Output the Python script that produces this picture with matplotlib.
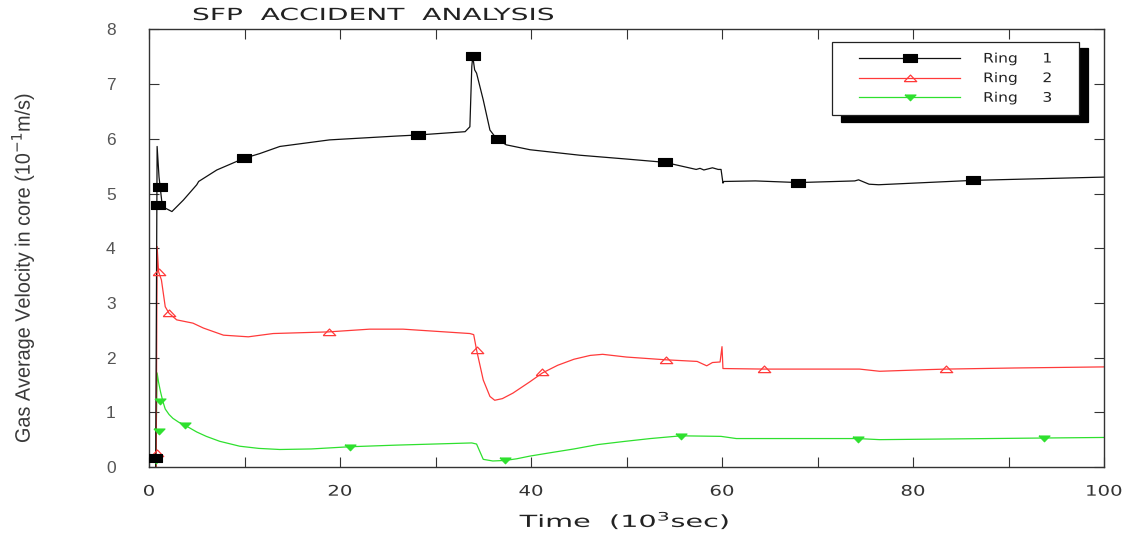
import numpy as np
import matplotlib
matplotlib.use("Agg")
import matplotlib.pyplot as plt
from matplotlib.lines import Line2D
from matplotlib.legend_handler import HandlerLine2D
from matplotlib.patheffects import AbstractPathEffect
from matplotlib.transforms import Affine2D
from matplotlib import font_manager

# ---- data (time in 10^3 s, velocity in 10^-1 m/s) ----
ring1_t = [0.7, 0.85, 1.05, 1.4, 2.4, 3.6, 5.0, 5.2, 7.1, 9.9, 11.6, 13.7, 18.9, 25.9, 28.2,
           33.1, 33.6, 33.8, 33.9, 34.1, 34.3, 35.0, 35.7, 36.4, 37.4, 39.9, 45.1, 50.0, 54.0,
           57.3, 57.7, 58.1, 59.0, 59.6, 59.9, 60.1, 60.2, 63.5, 68.0, 73.9, 74.3, 75.4, 76.4,
           86.3, 100.0]
ring1_v = [0.0, 5.86, 5.3, 4.76, 4.67, 4.88, 5.16, 5.22, 5.43, 5.64, 5.73, 5.86, 5.98, 6.05, 6.07,
           6.13, 6.22, 7.32, 7.51, 7.26, 7.20, 6.71, 6.16, 6.00, 5.89, 5.80, 5.70, 5.63, 5.57,
           5.44, 5.46, 5.43, 5.47, 5.44, 5.44, 5.19, 5.22, 5.23, 5.20, 5.23, 5.25, 5.17, 5.16,
           5.24, 5.30]
ring1_mark_t = [0.65, 0.95, 1.2, 9.9, 28.2, 33.9, 36.5, 54.0, 68.0, 86.3]
ring1_mark_v = [0.16, 4.79, 5.12, 5.64, 6.07, 7.51, 6.00, 5.57, 5.20, 5.24]

ring2_t = [0.75, 0.85, 1.0, 1.3, 1.7, 2.1, 2.9, 4.6, 5.7, 7.8, 10.4, 13.0, 18.8, 23.1, 26.6,
           33.6, 34.0, 34.3, 35.0, 35.7, 36.2, 37.0, 38.1, 39.9, 41.2, 42.8, 44.5, 46.2, 47.5,
           50.0, 54.1, 57.4, 58.4, 59.0, 59.8, 60.0, 60.1, 64.4, 74.4, 76.5, 81.5, 83.5, 90.6,
           100.0]
ring2_v = [0.0, 4.03, 3.57, 3.42, 2.93, 2.81, 2.69, 2.63, 2.54, 2.41, 2.38, 2.44, 2.47, 2.52, 2.52,
           2.44, 2.42, 2.14, 1.59, 1.29, 1.22, 1.25, 1.35, 1.56, 1.72, 1.86, 1.97, 2.04, 2.06,
           2.01, 1.96, 1.93, 1.85, 1.91, 1.92, 2.20, 1.80, 1.79, 1.79, 1.75, 1.78, 1.79, 1.81,
           1.83]
ring2_mark_t = [0.8, 1.0, 2.1, 18.8, 34.3, 41.2, 54.1, 64.4, 83.5]
ring2_mark_v = [0.25, 3.57, 2.81, 2.47, 2.14, 1.74, 1.96, 1.79, 1.79]

ring3_t = [0.7, 0.85, 1.0, 1.2, 1.45, 1.7, 2.1, 2.5, 3.1, 3.8, 5.0, 6.0, 7.4, 9.5, 11.5, 13.7,
           17.0, 21.0, 25.9, 33.8, 34.3, 35.0, 36.0, 37.3, 38.5, 39.9, 42.0, 44.5, 47.0, 49.9,
           52.5, 55.7, 59.9, 61.5, 74.2, 76.5, 93.7, 100.0]
ring3_v = [0.0, 1.72, 1.55, 1.38, 1.20, 1.06, 0.96, 0.89, 0.82, 0.76, 0.64, 0.56, 0.47, 0.38, 0.34,
           0.32, 0.33, 0.37, 0.40, 0.44, 0.42, 0.14, 0.11, 0.12, 0.15, 0.20, 0.26, 0.33, 0.41, 0.47,
           0.52, 0.57, 0.56, 0.52, 0.52, 0.50, 0.53, 0.54]
ring3_mark_t = [0.75, 1.0, 1.1, 3.8, 21.0, 37.3, 55.7, 74.2, 93.7]
ring3_mark_v = [0.12, 0.65, 1.20, 0.76, 0.37, 0.12, 0.57, 0.52, 0.53]

series_labels = ["Ring     1", "Ring     2", "Ring     3"]
x_ticks = [0, 20, 40, 60, 80, 100]
x_tick_labels = ["0", "20", "40", "60", "80", "100"]
y_ticks = [0, 1, 2, 3, 4, 5, 6, 7, 8]

W, H = 1144, 535

# ---- styling helpers ----
installed = {f.name for f in font_manager.fontManager.ttflist}
narrow = "Liberation Sans Narrow" if "Liberation Sans Narrow" in installed else "Liberation Sans"


class HStretch(AbstractPathEffect):
    """Draw text glyphs widened (or narrowed) along the text direction."""

    def __init__(self, sx, anchor="left"):
        super().__init__()
        self.sx = sx
        self.anchor = anchor

    def draw_path(self, renderer, gc, tpath, affine, rgbFace=None):
        c = 0.0
        if self.anchor == "center":
            ext = tpath.get_extents()
            c = 0.5 * (ext.x0 + ext.x1)
        pre = Affine2D().translate(-c, 0).scale(self.sx, 1).translate(c, 0)
        renderer.draw_path(gc, tpath, pre + affine, rgbFace)


class InsetHandler(HandlerLine2D):
    """Legend line handle that leaves a blank margin before the line."""

    def __init__(self, inset, **kw):
        super().__init__(**kw)
        self.inset = inset

    def get_xdata(self, legend, xdescent, ydescent, width, height, fontsize):
        x0 = -xdescent + self.inset
        x1 = -xdescent + width
        return np.array([x0, x1]), np.array([(x0 + x1) / 2])


rect = [(-1, -0.64), (1, -0.64), (1, 0.64), (-1, 0.64), (-1, -0.64)]
tri_up = [(-1, -0.5), (1, -0.5), (0, 0.55), (-1, -0.5)]
tri_dn = [(-1, 0.45), (1, 0.45), (0, -0.6), (-1, 0.45)]

styles = [
    dict(color="#111111", marker=rect, ms=10, mfc="black", mec="black"),
    dict(color="#ff3a3a", marker=tri_up, ms=9, mfc="none", mec="#ff3a3a", mew=0.9),
    dict(color="#2ee02e", marker=tri_dn, ms=8, mfc="#2ee02e", mec="#2ee02e"),
]

fig = plt.figure(figsize=(W / 100, H / 100), dpi=100)
ax = fig.add_axes([149 / W, 1 - 467 / H, (1104 - 149) / W, (467 - 29.4) / H])

data = [
    (ring3_t, ring3_v, ring3_mark_t, ring3_mark_v, styles[2]),
    (ring2_t, ring2_v, ring2_mark_t, ring2_mark_v, styles[1]),
    (ring1_t, ring1_v, ring1_mark_t, ring1_mark_v, styles[0]),
]
for t, v, mt, mv, st in data:
    ax.plot(t, v, color=st["color"], lw=0.9, zorder=2)
    ax.plot(mt, mv, ls="none", marker=st["marker"], ms=st["ms"], mfc=st["mfc"],
            mec=st["mec"], mew=st.get("mew", 0.8), zorder=3)

ax.set_xlim(0, 100)
ax.set_ylim(0, 8)
ax.set_xticks(x_ticks)
ax.set_xticklabels(x_tick_labels)
ax.set_xticks([10, 30, 50, 70, 90], minor=True)
ax.set_yticks(y_ticks)
ax.set_yticklabels([str(y) for y in y_ticks])

for s in ax.spines.values():
    s.set_color("#333333")
    s.set_linewidth(1.0)

ax.tick_params(axis="both", which="both", direction="in", top=True, right=True,
               length=7, width=0.8, color="#333333")
ax.tick_params(axis="x", which="major", pad=12, labelsize=10.5, labelcolor="#333333")
ax.tick_params(axis="y", which="major", pad=24, labelsize=12.5, labelcolor="#555555")
for lab in ax.get_yticklabels():
    lab.set_family("Liberation Sans")
for lab in ax.get_xticklabels():
    lab.set_family("DejaVu Sans")
    lab.set_path_effects([HStretch(1.35, "center")])

# legend with hard black drop shadow
handles = [Line2D([], [], color=st["color"], lw=0.9, marker=st["marker"], ms=st["ms"],
                  mfc=st["mfc"], mec=st["mec"], mew=st.get("mew", 0.8)) for st in styles]
hmap = {h: InsetHandler(inset=12) for h in handles}
leg_w = (1079 - 832) / (1104 - 149)
leg_top = (467 - 42) / (467 - 29.4)
leg = ax.legend(handles, series_labels, handler_map=hmap, loc="upper left", mode="expand",
                bbox_to_anchor=((832 - 149) / (1104 - 149), leg_top - 0.17, leg_w, 0.17),
                fontsize=9.5, handlelength=8.9, handletextpad=1.75, labelspacing=0.5,
                borderpad=0.8, borderaxespad=0, numpoints=1, fancybox=False, framealpha=1,
                edgecolor="#222222",
                shadow={"color": "black", "alpha": 1, "ox": 6.5, "oy": -4.5})
leg.get_frame().set_linewidth(0.9)
for txt in leg.get_texts():
    txt.set_color("#222222")
    txt.set_family("DejaVu Sans")

title = fig.text(192 / W, 1 - 15 / H, "SFP  ACCIDENT  ANALYSIS", ha="left", va="center",
                 fontsize=12, color="#222222", family="DejaVu Sans")
xlab = fig.text(624.5 / W, 1 - 520 / H, "Time  (10$^3$sec)", ha="center", va="center",
                fontsize=12, color="#222222", family="DejaVu Sans")
ylab = fig.text(22 / W, 1 - 267.5 / H, "Gas Average Velocity in core (10$^{-1}$m/s)",
                rotation=90, ha="center", va="center", fontsize=15, color="#3a3a3a",
                family=narrow)

# widen / narrow the free text to the span it should occupy
fig.canvas.draw()
renderer = fig.canvas.get_renderer()
title.set_path_effects([HStretch(361 / title.get_window_extent(renderer).width, "left")])
xlab.set_path_effects([HStretch(211 / xlab.get_window_extent(renderer).width, "center")])
ylab.set_path_effects([HStretch(351 / ylab.get_window_extent(renderer).height, "center")])
for txt in leg.get_texts():
    txt.set_path_effects([HStretch(70 / txt.get_window_extent(renderer).width, "left")])

fig.savefig("out.png", dpi=100)
